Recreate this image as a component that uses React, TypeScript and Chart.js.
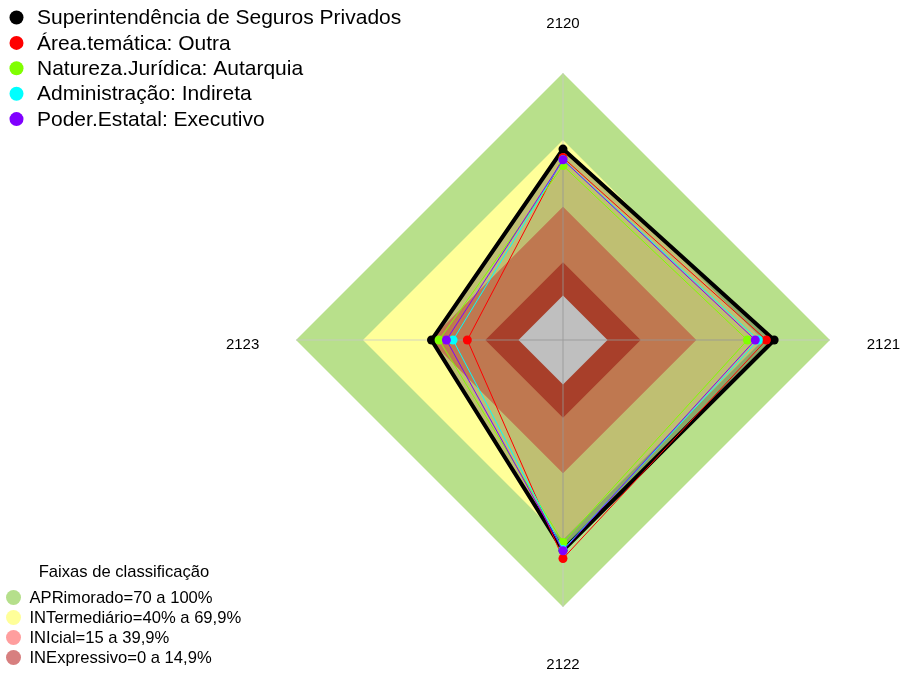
import React, { useEffect, useRef } from 'react';
import { Chart, registerables } from 'chart.js';

Chart.register(...registerables);

// ---- data ----
const axisLabels = ['2120', '2121', '2122', '2123'];

const seriesNames = [
  'Superintendência de Seguros Privados',
  'Área.temática: Outra',
  'Natureza.Jurídica: Autarquia',
  'Administração: Indireta',
  'Poder.Estatal: Executivo',
];
const seriesColors = ['#000000', '#FF0000', '#80FF00', '#00FFFF', '#8000FF'];

const superintendencia = [65.8, 74.9, 74.5, 39.1];
const areaTematica = [62.0, 71.4, 78.2, 23.0];
const naturezaJuridica = [58.4, 62.9, 71.0, 35.7];
const administracao = [61.0, 67.8, 74.2, 29.4];
const poderEstatal = [61.0, 66.4, 74.7, 32.4];

const bandTitle = 'Faixas de classificação';
const bandNames = [
  'APRimorado=70 a 100%',
  'INTermediário=40% a 69,9%',
  'INIcial=15 a 39,9%',
  'INExpressivo=0 a 14,9%',
];
const bandUpper = [100, 69.9, 39.9, 14.9];
const bandFill = ['#B8E08B', '#FFFF99', '#FFA06B', '#E05538'];
const bandLegendColors = ['#B5DF8B', '#FFFF99', '#FF9E9E', '#D77F7F'];

const FONT = '"Liberation Sans", Arial, Helvetica, sans-serif';

export default function App() {
  const ref = useRef<HTMLCanvasElement>(null);

  useEffect(() => {
    const canvas = ref.current;
    if (!canvas) return;

    const seriesData = [superintendencia, areaTematica, naturezaJuridica, administracao, poderEstatal];

    const line = (i: number) => ({
      label: seriesNames[i],
      data: seriesData[i],
      borderColor: seriesColors[i],
      backgroundColor: i === 0 ? 'rgba(0,0,0,0.25)' : seriesColors[i],
      borderWidth: i === 0 ? 4 : 1,
      borderJoinStyle: 'miter' as const,
      pointRadius: 4.5,
      pointBackgroundColor: seriesColors[i],
      pointBorderColor: seriesColors[i],
      pointBorderWidth: 0,
      fill: i === 0 ? 'start' : false,
    });

    const band = (v: number, color: string, label: string) => ({
      label,
      data: axisLabels.map(() => v),
      borderColor: 'rgba(0,0,0,0)',
      backgroundColor: color,
      borderWidth: 0,
      pointRadius: 0,
      fill: 'start',
    });

    // dataset index 0 is drawn on top
    const datasets: any[] = [
      line(4), line(3), line(2), line(1), line(0),
      band(0, '#FFFFFF', 'centro'),
      band(bandUpper[3], bandFill[3], bandNames[3]),
      band(bandUpper[2], bandFill[2], bandNames[2]),
      band(bandUpper[1], bandFill[1], bandNames[1]),
      band(bandUpper[0], bandFill[0], bandNames[0]),
    ];
    const centerIndex = 5;

    const decor = {
      id: 'decor',
      afterDatasetDraw(chart: any, args: any) {
        if (args.index !== centerIndex) return;
        const scale = chart.scales.r;
        const ctx = chart.ctx;
        ctx.save();
        ctx.strokeStyle = 'rgba(200,200,200,0.8)';
        ctx.lineWidth = 1;
        for (let i = 0; i < axisLabels.length; i++) {
          const a = scale.getPointPositionForValue(i, scale.min);
          const b = scale.getPointPositionForValue(i, 100);
          ctx.beginPath();
          ctx.moveTo(a.x, a.y);
          ctx.lineTo(b.x, b.y);
          ctx.stroke();
        }
        ctx.restore();
      },
      afterDraw(chart: any) {
        const scale = chart.scales.r;
        const ctx = chart.ctx;
        ctx.save();
        // axis labels at 1.2 x radius
        ctx.fillStyle = '#000';
        ctx.font = `15px ${FONT}`;
        ctx.textAlign = 'center';
        ctx.textBaseline = 'middle';
        const labelValue = scale.min + 1.2 * (scale.max - scale.min);
        axisLabels.forEach((t, i) => {
          const p = scale.getPointPositionForValue(i, labelValue);
          ctx.fillText(t, p.x, p.y + 4.5);
        });

        // series legend (top-left)
        ctx.textAlign = 'left';
        ctx.font = `21px ${FONT}`;
        seriesNames.forEach((name, i) => {
          const y = 17.5 + i * 25.4;
          ctx.fillStyle = seriesColors[i];
          ctx.beginPath();
          ctx.arc(16.5, y, 7, 0, Math.PI * 2);
          ctx.fill();
          ctx.fillStyle = '#000';
          ctx.fillText(name, 37, y + 1);
        });

        // band legend (bottom-left)
        ctx.font = `16.6px ${FONT}`;
        ctx.textAlign = 'center';
        ctx.fillStyle = '#000';
        ctx.fillText(bandTitle, 124, 572);
        ctx.textAlign = 'left';
        bandNames.forEach((name, i) => {
          const y = 597.5 + i * 20;
          ctx.fillStyle = bandLegendColors[i];
          ctx.beginPath();
          ctx.arc(13.5, y, 7.5, 0, Math.PI * 2);
          ctx.fill();
          ctx.fillStyle = '#000';
          ctx.fillText(name, 29.5, y + 1);
        });
        ctx.restore();
      },
    };

    const chart = new Chart(canvas, {
      type: 'radar',
      data: { labels: axisLabels, datasets },
      options: {
        animation: false,
        responsive: false,
        events: [],
        layout: { padding: { left: 296, top: 73, right: 74, bottom: 67 } },
        plugins: {
          legend: { display: false },
          tooltip: { enabled: false },
          title: { display: false },
        },
        scales: {
          r: {
            min: -20,
            max: 100,
            startAngle: 0,
            ticks: { display: false },
            grid: { display: false },
            angleLines: { display: false },
            pointLabels: { display: false },
          },
        },
        elements: { line: { tension: 0 } },
      } as any,
      plugins: [decor],
    });

    return () => chart.destroy();
  }, []);

  return (
    <div style={{ position: 'absolute', left: 0, top: 0, width: 905, height: 675, background: '#fff' }}>
      <canvas ref={ref} width={905} height={675} style={{ display: 'block' }} />
    </div>
  );
}
